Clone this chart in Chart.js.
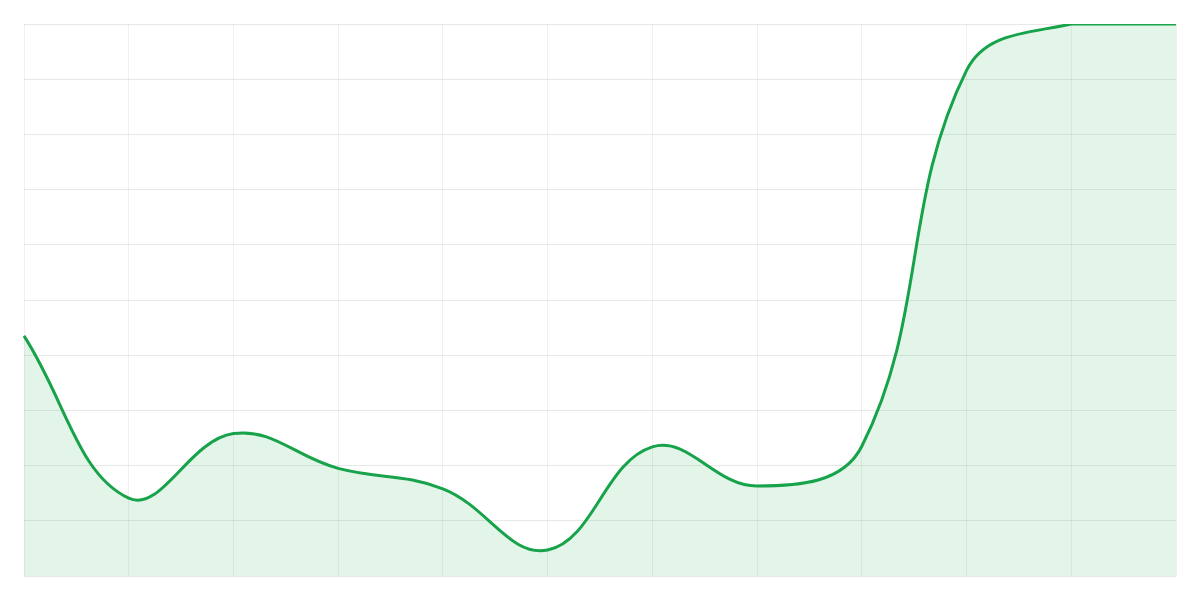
<!DOCTYPE html>
<html>
<head>
<meta charset="utf-8">
<script src="https://cdn.jsdelivr.net/npm/chart.js@4"></script>
<style>
  html, body { margin: 0; padding: 0; background: #fff; }
  .chart-area { width: 1200px; height: 600px; }
</style>
</head>
<body>
<div class="chart-area"><canvas id="chartLinha"></canvas></div>
<script>
const labels = ['1', '2', '3', '4', '5', '6', '7', '8', '9', '10', '11', '12'];
const valores = [43.5, 14.1, 25.8, 19.5, 15.8, 4.7, 23.4, 16.3, 23.5, 91.6, 100, 100];
const yMin = 0;
const yMax = 100;

const ctx = document.getElementById('chartLinha');
new Chart(ctx, {
  type: 'line',
  data: {
    labels,
    datasets: [{
      data: valores,
      borderColor: '#16a34a',
      backgroundColor: 'rgba(22,163,74,0.12)',
      borderWidth: 3,
      fill: true,
      tension: 0.4,
      pointRadius: 0
    }]
  },
  options: {
    responsive: true,
    maintainAspectRatio: false,
    animation: false,
    layout: { padding: 24 },
    plugins: { legend: { display: false }, tooltip: { enabled: false } },
    scales: {
      x: {
        ticks: { display: false },
        grid: { color: 'rgba(0,0,0,0.06)', drawTicks: false },
        border: { display: false }
      },
      y: {
        min: yMin,
        max: yMax,
        ticks: { display: false, stepSize: 10 },
        grid: { color: 'rgba(0,0,0,0.09)', drawTicks: false },
        border: { display: false }
      }
    }
  }
});
</script>
</body>
</html>
